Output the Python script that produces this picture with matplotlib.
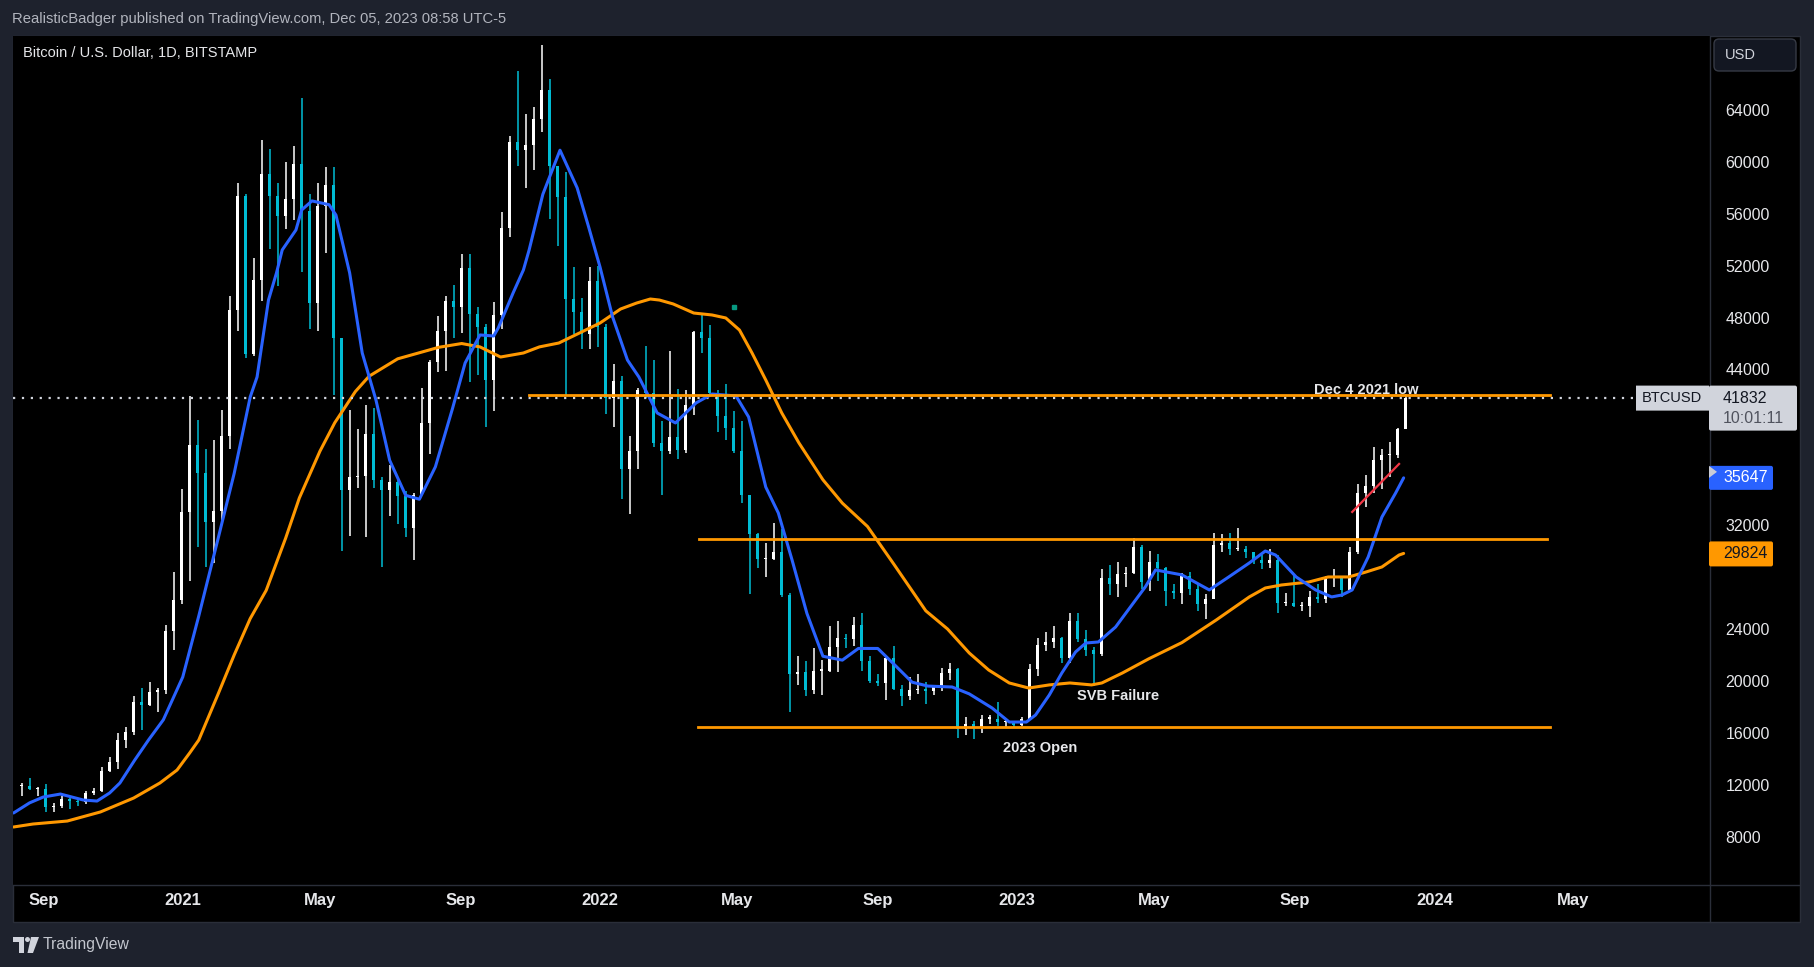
"""
BTC/USD daily chart (TradingView style) with 50/200 day SMAs and key levels.
Candles are weekly OHLC read off the published chart.
"""
import numpy as np
import pandas as pd
import matplotlib
matplotlib.use("Agg")
import matplotlib.pyplot as plt
import matplotlib.dates as mdates
from matplotlib.patches import Rectangle, Polygon, FancyBboxPatch, Circle
from matplotlib.lines import Line2D
from matplotlib.transforms import IdentityTransform

plt.rcParams['font.family'] = ['Liberation Sans', 'DejaVu Sans']

# Weekly candles (weeks start on Monday), open = previous close
first_week = '2020-08-10'
first_open = 11900
week_close = [
    # 2020
    11910, 11650, 11680, 10250, 10330, 10930, 10780, 10670, 11370, 11500, 13030,
    13740, 15480, 16060, 18400, 18180, 19150, 19270, 23850, 26250, 33000,
    # 2021
    38200, 36000, 32250, 33100, 38900, 48600, 57400, 45200, 50900, 59100, 57400,
    55800, 57100, 59800, 56200, 49100, 56600, 58200, 46400, 34700, 35700, 35800,
    39000, 35500, 34700, 35300, 34250, 31800, 34300, 39900, 44600, 47000, 49300,
    48800, 51800, 48300, 47300, 43200, 48200, 54900, 61500, 60900, 61300, 63300,
    65500, 59700, 57300, 49400, 48400, 46700, 50800, 47300,
    # 2022
    41800, 43100, 36300, 37700, 42400, 42200, 38300, 37700, 38800, 37800, 41300,
    46900, 46400, 42200, 40400, 39500, 37700, 34300, 31300, 29400, 29400, 29900,
    26600, 20500, 20700, 19300, 20800, 20800, 22600, 23300, 23200, 24300, 21500,
    20000, 19800, 21800, 19400, 18800, 19300, 19400, 19200, 19600, 20600, 20900,
    16300, 16700, 16400, 17100, 17100, 16800, 16800, 16600,
    # 2023
    17100, 20900, 22800, 23000, 23300, 21800, 24600, 23200, 22400, 22100, 27900,
    27500, 28200, 28300, 30300, 27600, 29200, 28700, 26900, 26800, 28100, 27100,
    25900, 26300, 30500, 30600, 30200, 30200, 29900, 29300, 29100, 29300, 26000,
    26000, 25800, 25800, 26500, 26300, 27900, 27900, 27000, 29900, 34500, 35000,
    37000, 37400, 37400, 39400, 41832,
]
week_high = [
    12100, 12480, 11800, 12080, 10600, 11100, 10990, 10960, 11500, 11720, 13350,
    14100, 15960, 16480, 18800, 19480, 19900, 19420, 24300, 28380, 34800,
    41950, 40100, 37900, 38600, 40900, 49700, 58350, 57500, 52600, 61700, 61000,
    58400, 60000, 61200, 64900, 57500, 58400, 59600, 59600, 46400, 40900, 39400,
    41300, 41000, 35700, 36600, 35500, 34650, 34500, 42600, 44700, 48100, 49700,
    50500, 52900, 52900, 48800, 47500, 49200, 56100, 62000, 67000, 63700, 64250,
    69000, 66400, 59700, 59200, 51900, 49500, 51900, 52000,
    47500, 44400, 43500, 38900, 42600, 45800, 44700, 40000, 45400, 42500, 42400,
    47000, 48200, 47400, 42400, 42900, 40800, 40000, 34300, 31400, 30600, 32200,
    31700, 26800, 21900, 21500, 22500, 21600, 24200, 24600, 23600, 24900, 25200,
    21900, 20500, 21900, 22700, 19700, 20300, 20500, 19900, 19700, 21000, 21400,
    21000, 17200, 16900, 17400, 17400, 18400, 17000, 16900,
    17200, 21300, 23300, 23800, 24200, 23400, 25200, 25200, 23900, 22600, 28600,
    28900, 29200, 28800, 31000, 30500, 30000, 29800, 28800, 27500, 28300, 28400,
    27400, 26700, 31400, 31300, 31400, 31800, 30400, 29900, 29700, 30200, 29700,
    26800, 28200, 26100, 26900, 27500, 28100, 28600, 27900, 30300, 35200, 35900,
    38000, 37900, 38400, 39500, 42100,
]
week_low = [
    11120, 11560, 11120, 9880, 9880, 10200, 10130, 10370, 10550, 11200, 11400,
    12960, 13200, 14830, 15800, 16200, 18100, 17600, 19000, 22400, 25900,
    27700, 30300, 28800, 29100, 32300, 37900, 47000, 44900, 45000, 49300, 53300,
    50400, 54800, 55500, 51500, 47100, 47000, 53000, 42000, 30000, 31200, 34900,
    31100, 34900, 28800, 32700, 32100, 31100, 29300, 34300, 37500, 43800, 43900,
    46400, 46800, 43000, 43600, 39600, 40800, 47100, 54200, 59700, 58000, 59400,
    62300, 55600, 53500, 42000, 46700, 45600, 45600, 45700,
    40600, 39600, 34000, 32900, 36300, 41800, 38000, 34300, 37500, 37100, 37600,
    40500, 45300, 42100, 39200, 38600, 37600, 33700, 26700, 28700, 28000, 29300,
    26500, 17600, 19700, 18800, 19000, 18900, 20700, 20700, 22500, 22700, 20800,
    19800, 19600, 18500, 19300, 18100, 18500, 19000, 18200, 18900, 19200, 20100,
    15600, 15800, 15500, 16000, 16700, 16500, 16400, 16400,
    16550, 17100, 20400, 22300, 22500, 21400, 21400, 23000, 21900, 19600, 21900,
    26600, 26500, 27200, 28200, 27100, 26900, 27700, 25800, 26300, 25900, 26600,
    25400, 24800, 26300, 29900, 29700, 30000, 29500, 29000, 28600, 28700, 25200,
    25800, 25700, 25400, 24900, 26000, 26000, 27200, 26500, 26900, 29800, 33400,
    34500, 34800, 35700, 37200, 39400,
]

# 50 day SMA (blue)
sma50_dates = [
    '2020-08-06', '2020-08-20', '2020-09-01', '2020-09-16', '2020-10-06', '2020-10-18',
    '2020-10-29', '2020-11-07', '2020-11-20', '2020-12-02', '2020-12-15', '2021-01-01',
    '2021-01-15', '2021-02-01', '2021-02-15', '2021-03-01', '2021-03-07', '2021-03-17',
    '2021-03-24', '2021-03-29', '2021-04-10', '2021-04-15', '2021-04-24', '2021-05-09',
    '2021-05-15', '2021-05-27', '2021-06-07', '2021-06-19', '2021-07-01', '2021-07-15',
    '2021-07-27', '2021-08-10', '2021-08-25', '2021-09-05', '2021-09-18', '2021-09-30',
    '2021-10-04', '2021-10-17', '2021-10-26', '2021-10-31', '2021-11-12', '2021-11-27',
    '2021-12-12', '2021-12-22', '2022-01-01', '2022-01-12', '2022-01-25', '2022-02-04',
    '2022-02-20', '2022-03-08', '2022-03-26', '2022-04-09', '2022-04-30', '2022-05-11',
    '2022-05-26', '2022-06-06', '2022-06-18', '2022-07-01', '2022-07-15', '2022-08-01',
    '2022-08-15', '2022-09-01', '2022-09-15', '2022-10-01', '2022-10-15', '2022-11-05',
    '2022-11-20', '2022-12-10', '2022-12-25', '2023-01-09', '2023-01-17', '2023-01-29',
    '2023-02-09', '2023-02-21', '2023-03-02', '2023-03-13', '2023-03-28', '2023-04-08',
    '2023-04-23', '2023-05-02', '2023-05-25', '2023-06-18', '2023-07-05', '2023-07-23',
    '2023-08-06', '2023-08-15', '2023-09-02', '2023-09-19', '2023-10-03', '2023-10-12',
    '2023-10-21', '2023-11-04', '2023-11-16', '2023-11-28', '2023-12-05',
]
sma50_vals = [
    9820, 10600, 11050, 11280, 10820, 10740,
    11360, 12130, 13900, 15440, 17000, 20300,
    25000, 31000, 36000, 41880, 43420, 49350,
    51440, 53210, 54750, 56290, 56990, 56700,
    55900, 51440, 45270, 41650, 37000, 34300,
    34000, 36500, 41000, 44500, 46660, 46580,
    47200, 49900, 51670, 53210, 57500, 60900,
    58000, 55000, 51900, 48050, 44730, 43420,
    40650, 39880, 41420, 42110, 41960, 40340,
    34940, 32940, 29320, 25200, 21900, 21600,
    22500, 22500, 21300, 19900, 19600, 19530,
    19000, 17910, 16830, 16830, 17370, 18910,
    20610, 22230, 22920, 23000, 24150, 25460,
    27240, 28550, 28170, 27010, 28010, 29090,
    30010, 29700, 28010, 27010, 26470, 26620,
    27010, 29550, 32630, 34480, 35647,
]

# 200 day SMA (orange)
sma200_dates = [
    '2020-08-06', '2020-08-23', '2020-09-22', '2020-10-21', '2020-11-19', '2020-12-12',
    '2020-12-27', '2021-01-07', '2021-01-15', '2021-02-01', '2021-02-15', '2021-03-01',
    '2021-03-15', '2021-04-01', '2021-04-13', '2021-05-01', '2021-05-14', '2021-06-01',
    '2021-06-13', '2021-07-08', '2021-08-13', '2021-09-02', '2021-09-18', '2021-10-06',
    '2021-10-26', '2021-11-09', '2021-11-26', '2021-12-14', '2022-01-01', '2022-01-19',
    '2022-02-02', '2022-02-14', '2022-02-22', '2022-03-06', '2022-03-24', '2022-04-09',
    '2022-04-21', '2022-05-03', '2022-05-14', '2022-05-26', '2022-06-09', '2022-06-24',
    '2022-07-15', '2022-08-01', '2022-08-23', '2022-09-15', '2022-10-13', '2022-11-01',
    '2022-11-20', '2022-12-07', '2022-12-25', '2023-01-11', '2023-01-29', '2023-02-16',
    '2023-03-07', '2023-03-16', '2023-04-03', '2023-04-26', '2023-05-25', '2023-06-24',
    '2023-07-23', '2023-08-06', '2023-08-20', '2023-09-13', '2023-09-30', '2023-10-18',
    '2023-11-02', '2023-11-16', '2023-12-01', '2023-12-05',
]
sma200_vals = [
    8740, 8970, 9200, 9900, 10970, 12130,
    13130, 14440, 15440, 19000, 22000, 24800,
    26980, 31000, 34100, 37700, 39900, 42300,
    43480, 44820, 45710, 46000, 45740, 44960,
    45270, 45740, 46040, 46810, 47580, 48660,
    49120, 49430, 49350, 49050, 48350, 48200,
    47970, 47040, 45270, 43190, 40650, 38340,
    35500, 33700, 31900, 29000, 25400, 24000,
    22150, 20840, 19840, 19450, 19690, 19840,
    19690, 19840, 20610, 21700, 22950, 24690,
    26470, 27160, 27390, 27620, 28010, 28010,
    28390, 28780, 29700, 29824,
]

# Horizontal levels drawn on the chart
level_start = ['2021-10-31', '2022-03-29', '2022-03-28']
level_end = ['2024-04-11', '2024-04-08', '2024-04-11']
level_price = [42000, 30950, 16450]

# Short red trend line under the Nov 2023 rally
trend_dates = ['2023-10-21', '2023-12-01']
trend_prices = [33020, 36720]

notes = ['Dec 4 2021 low', 'SVB Failure', '2023 Open']
note_dates = ['2023-11-02', '2023-03-30', '2023-01-21']
note_prices = [42110, 18530, 14520]

marker_date = '2022-04-28'
marker_price = 48800

last_price = 41832
countdown = '10:01:11'
sma50_last = 35647
sma200_last = 29824

price_ticks = [8000, 12000, 16000, 20000, 24000, 32000, 44000, 48000, 52000,
               56000, 60000, 64000]
time_ticks = ['2020-09-01', '2021-01-01', '2021-05-01', '2021-09-01', '2022-01-01',
              '2022-05-01', '2022-09-01', '2023-01-01', '2023-05-01', '2023-09-01',
              '2024-01-01', '2024-05-01']
time_labels = ['Sep', '2021', 'May', 'Sep', '2022', 'May', 'Sep', '2023', 'May',
               'Sep', '2024', 'May']


def dnum(dates):
    return mdates.date2num(pd.to_datetime(dates).to_pydatetime())


W, H = 1814, 967
FRAME = '#1e222d'
BORDER = '#2a2e39'
TEXT = '#e6e7ea'
UP = '#ffffff'
DOWN = '#00bcd4'
BLUE = '#2962ff'
ORANGE = '#ff9800'
IDT = IdentityTransform()

fig = plt.figure(figsize=(W / 100, H / 100), dpi=100, facecolor=FRAME)

# black chart panel with its border
fig.add_artist(Rectangle((13, H - 922), 1800 - 13, 922 - 36, transform=IDT,
                         facecolor='black', edgecolor=BORDER, lw=1, zorder=-1))

ax = fig.add_axes([13 / W, (H - 885) / H, (1710 - 13) / W, (885 - 36) / H])
ax.set_facecolor('black')
for s in ax.spines.values():
    s.set_visible(False)

t0 = dnum('2021-01-01')
ax.set_xlim(t0 - 148.5, t0 + 1336)
ax.set_ylim(4270, 69700)

# candles, drawn thin so they read like the dense daily bars
week_start = pd.date_range(first_week, periods=len(week_close), freq='7D')
x_week = mdates.date2num(week_start.to_pydatetime()) + 3
closes = np.array(week_close, dtype=float)
opens = np.concatenate([[first_open], closes[:-1]])
colors = np.where(closes >= opens, UP, DOWN)
ax.vlines(x_week, week_low, week_high, colors=colors, lw=1.1, zorder=2)
body_lo = np.minimum(opens, closes)
body_h = np.maximum(np.abs(closes - opens), 80)
ax.bar(x_week, body_h, bottom=body_lo, width=2.6, color=colors, lw=0, zorder=2)

# moving averages
ax.plot(dnum(sma200_dates), sma200_vals, color=ORANGE, lw=2.2, zorder=3,
        solid_joinstyle='round', solid_capstyle='round')
ax.plot(dnum(sma50_dates), sma50_vals, color=BLUE, lw=2.2, zorder=4,
        solid_joinstyle='round', solid_capstyle='round')

# dotted last price line
ax.axhline(last_price, color='#d1d4dc', lw=1.6, ls=(0, (1, 3)), zorder=3)

# levels and trend line
for a, b, p in zip(level_start, level_end, level_price):
    ax.plot(dnum([a, b]), [p, p], color=ORANGE, lw=2, zorder=5)
ax.plot(dnum(trend_dates), trend_prices, color='#f23645', lw=1.6, zorder=5)
ax.plot(dnum([marker_date]), [marker_price], marker='s', ms=2.5, color='#089981',
        lw=0, zorder=5)

for s, d, p in zip(notes, note_dates, note_prices):
    ax.text(dnum([d])[0], p, s, ha='center', va='baseline', color=TEXT,
            fontsize=10.5, fontweight='bold', zorder=6)

# axes ticks
ax.yaxis.tick_right()
ax.set_yticks(price_ticks)
ax.set_yticklabels([str(v) for v in price_ticks])
ax.tick_params(axis='y', length=0, pad=11, labelsize=11.5, labelcolor=TEXT)
ax.set_xticks(dnum(time_ticks))
ax.set_xticklabels(time_labels)
ax.tick_params(axis='x', length=0, pad=5.5, labelsize=12, labelcolor=TEXT)
for lab in ax.get_xticklabels():
    lab.set_fontweight('bold')

# separators between plot, price scale and time scale
fig.add_artist(Line2D([1710, 1710], [H - 36, H - 922], color=BORDER, lw=1,
                      transform=IDT, zorder=2))
fig.add_artist(Line2D([13, 1800], [H - 885, H - 885], color=BORDER, lw=1,
                      transform=IDT, zorder=2))


def price_y(p):
    # vertical pixel (top origin) of a price
    return H - ax.transData.transform((0, p))[1]


def box(x0, y0, x1, y1, fc, r=0):
    fig.add_artist(FancyBboxPatch((x0, H - y1), x1 - x0, y1 - y0,
                                  boxstyle=f'round,pad=0,rounding_size={r}',
                                  transform=IDT, facecolor=fc, edgecolor='none',
                                  zorder=5))


def label(x, y, s, color, size=11.5, ha='left'):
    fig.text(x, H - y, s, transform=IDT, color=color, fontsize=size,
             ha=ha, va='center', zorder=6)


# last price tag
yc = price_y(last_price)
box(1636, yc - 12, 1709, yc + 13, '#d1d4dc')
box(1709, yc - 12, 1797, yc + 33, '#d1d4dc', r=2)
label(1672, yc + 0.5, 'BTCUSD', '#131722', size=10.5, ha='center')
label(1723, yc + 0.5, f'{last_price}', '#131722')
label(1723, yc + 21, countdown, '#50535e')

# SMA tags
yc = price_y(sma50_last)
box(1709, yc - 12, 1773, yc + 12, BLUE, r=2)
label(1723, yc, f'{sma50_last}', 'white')
fig.add_artist(Polygon([(1709, H - (yc - 12)), (1717, H - (yc - 6)), (1709, H - yc)],
                       closed=True, transform=IDT, facecolor='#c9ccd6',
                       edgecolor='none', zorder=7))
yc = price_y(sma200_last)
box(1709, yc - 12, 1773, yc + 13, ORANGE, r=2)
label(1723, yc + 0.5, f'{sma200_last}', '#131722')

# currency button
fig.add_artist(FancyBboxPatch((1714, H - 71), 82, 32,
                              boxstyle='round,pad=0,rounding_size=5', transform=IDT,
                              facecolor='#131722', edgecolor='#363a45', lw=1, zorder=5))
label(1725, 55, 'USD', '#d1d4dc', size=10.5)

# header, legend and footer
fig.text(12, H - 19, 'RealisticBadger published on TradingView.com, Dec 05, 2023 08:58 UTC-5',
         transform=IDT, color='#b2b5be', fontsize=10.6, va='center')
fig.text(23, H - 53, 'Bitcoin / U.S. Dollar, 1D, BITSTAMP', transform=IDT,
         color=TEXT, fontsize=10.5, va='center')

logo = '#d1d4dc'
fig.add_artist(Polygon([(13, H - 937), (24, H - 937), (24, H - 953), (19, H - 953),
                        (19, H - 942), (13, H - 942)], closed=True, transform=IDT,
                       facecolor=logo, edgecolor='none'))
fig.add_artist(Circle((27.5, H - 939.5), 2.5, transform=IDT, facecolor=logo,
                      edgecolor='none'))
fig.add_artist(Polygon([(31, H - 937), (39, H - 937), (33, H - 953), (27.5, H - 953)],
                       closed=True, transform=IDT, facecolor=logo, edgecolor='none'))
fig.text(43, H - 945, 'TradingView', transform=IDT, color='#c3c6ce', fontsize=11.3,
         va='center')

fig.savefig('out.png', dpi=100, facecolor=FRAME)
